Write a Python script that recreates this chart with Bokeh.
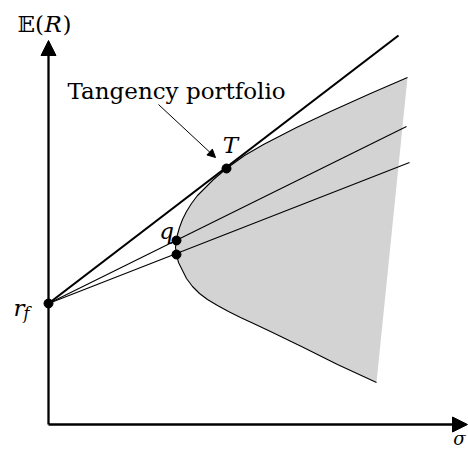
from bokeh.plotting import figure
from bokeh.models import Range1d, Arrow, NormalHead, Label
from bokeh.embed import file_html
from bokeh.resources import INLINE

# Risk-free rate (sigma = 0)
rf_sigma = 0.0
rf_mu = 1.21

# Efficient frontier: upper branch (from the far end down to the minimum-variance point)
upper_sigma = [3.59, 3.22, 2.82, 2.48, 2.15, 1.96, 1.78, 1.65, 1.56, 1.49, 1.43, 1.38,
               1.34, 1.31, 1.29, 1.28, 1.275, 1.27]
upper_mu    = [3.47, 3.31, 3.13, 2.97, 2.80, 2.69, 2.56, 2.45, 2.36, 2.29, 2.21, 2.13,
               2.05, 1.97, 1.90, 1.84, 1.81, 1.77]
# Lower branch (from the minimum-variance point outwards)
lower_sigma = [1.28, 1.30, 1.34, 1.38, 1.44, 1.51, 1.59, 1.69, 1.80, 1.92, 2.05, 2.22,
               2.55, 2.89, 3.28]
lower_mu    = [1.70, 1.62, 1.54, 1.46, 1.38, 1.31, 1.25, 1.19, 1.13, 1.07, 1.01, 0.93,
               0.77, 0.60, 0.42]

# Portfolios marked on the frontier
T_sigma, T_mu = 1.78, 2.56
q_sigma, q_mu = 1.28, 1.84
low_sigma, low_mu = 1.28, 1.70

# Capital allocation lines: far end of each line starting at rf
cml_end = (3.50, 3.89)
cal_q_end = (3.58, 2.98)
cal_low_end = (3.61, 2.62)

# Axis extents
sigma_max = 4.19
mu_max = 3.84

SERIF = "DejaVu Serif"

p = figure(width=468, height=450, output_backend="svg", toolbar_location=None,
           x_range=Range1d(-0.48, 4.20), y_range=Range1d(-0.26, 4.24),
           x_axis_type=None, y_axis_type=None, min_border=0)
p.grid.visible = False
p.outline_line_color = None
p.background_fill_color = "white"

# Feasible region
front_sigma = upper_sigma + lower_sigma
front_mu = upper_mu + lower_mu
p.patch(front_sigma, front_mu, fill_color="#d3d3d3", line_color=None)
p.line(front_sigma, front_mu, line_color="black", line_width=1.1, line_join="round")

# Capital allocation lines
p.line([rf_sigma, cal_q_end[0]], [rf_mu, cal_q_end[1]], line_color="black", line_width=1.1)
p.line([rf_sigma, cal_low_end[0]], [rf_mu, cal_low_end[1]], line_color="black", line_width=1.1)
p.line([rf_sigma, cml_end[0]], [rf_mu, cml_end[1]], line_color="black", line_width=2.2)

# Coordinate axes with arrow heads
for xe, ye in [(0, mu_max), (sigma_max, 0)]:
    p.add_layout(Arrow(x_start=0, y_start=0, x_end=xe, y_end=ye, line_width=2.3,
                       end=NormalHead(size=15, fill_color="black", line_color="black",
                                      line_width=1)))

# Pointer to the tangency portfolio
p.add_layout(Arrow(x_start=1.10, y_start=3.20, x_end=1.67, y_end=2.67, line_width=1,
                   end=NormalHead(size=8, fill_color="black", line_color="black",
                                  line_width=1)))

# Points
p.scatter([rf_sigma, T_sigma, q_sigma, low_sigma], [rf_mu, T_mu, q_mu, low_mu],
          size=9, color="black")

def lab(x, y, text, size="23px", style="normal", align="left", baseline="alphabetic"):
    p.add_layout(Label(x=x, y=y, text=text, text_font=SERIF, text_font_size=size,
                       text_font_style=style, text_align=align, text_baseline=baseline,
                       text_color="black"))

# Vertical axis title: E(R)
lab(-0.31, 4.01, "𝔼(")
lab(-0.04, 4.01, "R", style="italic")
lab(0.14, 4.01, ")")
# Horizontal axis title
lab(4.11, -0.14, "σ", size="18px", style="italic", align="center", baseline="middle")
# Point labels
lab(0.19, 3.34, "Tangency portfolio")
lab(1.82, 2.80, "T", style="italic", align="center")
lab(1.18, 1.94, "q", style="italic", align="center")
lab(-0.35, 1.17, "r", style="italic")
lab(-0.25, 1.11, "f", size="16px", style="italic")

open("out.html", "w").write(file_html(p, INLINE))
